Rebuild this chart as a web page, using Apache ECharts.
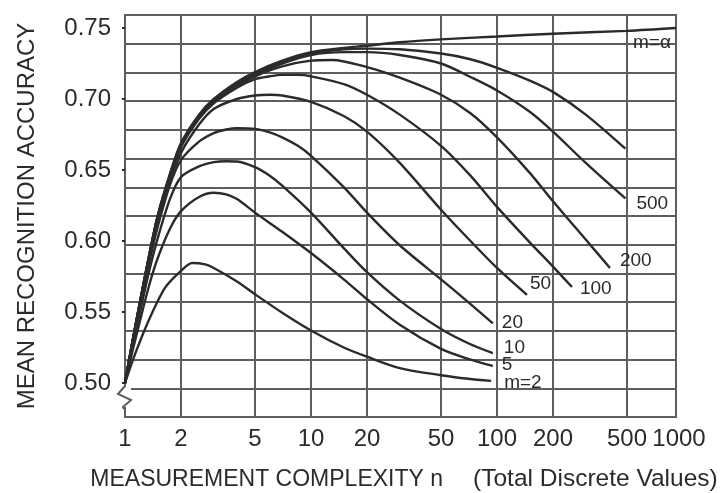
<!DOCTYPE html>
<html>
<head>
<meta charset="utf-8">
<script src="https://cdn.jsdelivr.net/npm/echarts@6/dist/echarts.min.js"></script>
<style>
  html, body { margin: 0; padding: 0; background: #fff; }
  #chart { width: 721px; height: 493px; }
</style>
</head>
<body>
<div id="chart"></div>
<script>
// Measurement complexity n (log scale) and the tick labels along it.
const xTickValues = [1, 2, 5, 10, 20, 50, 100, 200, 500, 917];
const xTickLabels = ['1', '2', '5', '10', '20', '50', '100', '200', '500', '1000'];
const xEdge = 917;                 // right edge of the ruled paper
const yTicks = [0.50, 0.55, 0.60, 0.65, 0.70, 0.75];
const yMin = 0.476056, yMax = 0.759155;

// Mean recognition accuracy vs. n, one curve per sample size m: [n, accuracy]
const mInf = [[1,0.500],[1.1,0.530],[1.2,0.556],[1.35,0.590],[1.5,0.618],[1.75,0.648],[2,0.669],[2.5,0.689],[3,0.700],[4,0.712],[5,0.719],[7,0.727],[10,0.733],[15,0.736],[20,0.7375],[30,0.740],[50,0.742],[100,0.744],[200,0.746],[500,0.748],[917,0.750]];
const m1000 = [[1,0.500],[1.1,0.530],[1.2,0.556],[1.35,0.590],[1.5,0.618],[1.75,0.647],[2,0.668],[2.5,0.688],[3,0.699],[4,0.711],[5,0.718],[7,0.726],[10,0.732],[15,0.735],[20,0.7355],[30,0.735],[50,0.732],[72,0.728],[100,0.722],[150,0.713],[200,0.705],[300,0.689],[490,0.665]];
const m500 = [[1,0.500],[1.1,0.530],[1.2,0.556],[1.35,0.590],[1.5,0.617],[1.75,0.647],[2,0.668],[2.5,0.688],[3,0.699],[4,0.710],[5,0.717],[7,0.725],[10,0.731],[15,0.733],[20,0.733],[30,0.731],[50,0.725],[72,0.7155],[100,0.706],[150,0.691],[200,0.677],[300,0.655],[490,0.630]];
const m200 = [[1,0.500],[1.1,0.530],[1.2,0.556],[1.35,0.590],[1.5,0.617],[1.75,0.646],[2,0.667],[2.5,0.687],[3,0.698],[4,0.709],[5,0.716],[7,0.723],[10,0.727],[13,0.7275],[20,0.7225],[30,0.715],[50,0.703],[72,0.690],[100,0.673],[150,0.648],[200,0.628],[300,0.601],[405,0.581]];
const m100 = [[1,0.500],[1.1,0.530],[1.2,0.556],[1.35,0.589],[1.5,0.616],[1.75,0.645],[2,0.666],[2.5,0.686],[3,0.697],[4,0.708],[5,0.714],[6,0.716],[7,0.717],[8.5,0.717],[10,0.716],[15,0.7105],[20,0.703],[30,0.689],[50,0.667],[72,0.646],[100,0.624],[150,0.599],[200,0.582],[253,0.5676]];
const m50 = [[1,0.500],[1.1,0.530],[1.2,0.555],[1.35,0.588],[1.5,0.615],[1.75,0.642],[2,0.662],[2.5,0.682],[3,0.693],[4,0.700],[5,0.7025],[6,0.703],[7,0.7025],[10,0.698],[15,0.688],[20,0.677],[30,0.655],[50,0.622],[72,0.600],[100,0.581],[145,0.562]];
const m20 = [[1,0.500],[1.1,0.528],[1.2,0.553],[1.35,0.585],[1.5,0.610],[1.75,0.640],[2,0.657],[2.5,0.670],[3,0.676],[3.5,0.6785],[4,0.6795],[5,0.679],[6,0.6765],[7,0.673],[8.5,0.667],[10,0.660],[15,0.638],[20,0.620],[30,0.597],[50,0.573],[70,0.557],[95,0.542]];
const m10 = [[1,0.500],[1.1,0.526],[1.2,0.549],[1.35,0.579],[1.5,0.602],[1.75,0.630],[2,0.645],[2.5,0.6525],[3,0.6555],[3.5,0.6562],[4,0.656],[5,0.652],[6,0.646],[7,0.639],[10,0.620],[15,0.595],[20,0.578],[30,0.558],[50,0.538],[70,0.528],[95,0.521]];
const m5 = [[1,0.500],[1.1,0.523],[1.2,0.543],[1.35,0.569],[1.5,0.588],[1.75,0.609],[2,0.621],[2.5,0.631],[3,0.634],[3.5,0.6328],[4,0.6295],[5,0.620],[7,0.6065],[10,0.5915],[15,0.573],[20,0.559],[30,0.541],[50,0.524],[70,0.517],[95,0.512]];
const m2 = [[1,0.500],[1.13,0.520],[1.33,0.543],[1.64,0.567],[2,0.579],[2.3,0.5845],[2.7,0.5835],[3,0.581],[4,0.5715],[5,0.5625],[7,0.5495],[10,0.537],[15,0.525],[20,0.5185],[30,0.5105],[50,0.5055],[70,0.503],[93,0.5015]];

const curveNames = ['m=α', '1000', '500', '200', '100', '50', '20', '10', '5', 'm=2'];
const curveData = [mInf, m1000, m500, m200, m100, m50, m20, m10, m5, m2];
const curveLabelShown = [true, false, true, true, true, true, true, true, true, true];
// where each curve's name sits relative to the curve's last point
const curveLabelOffset = [[-51, 15], [0, 0], [3, 5], [2, -7], [0, 2], [-5, -11], [1, -1], [3, -5], [1, -1], [5, 2]];

const FONT = '"Liberation Sans", Arial, Helvetica, sans-serif';
const INK = '#2b2b2b';
const RULE = '#5e5e5e';

const chart = echarts.init(document.getElementById('chart'), null, { renderer: 'canvas' });

const series = curveData.map((data, i) => ({
  type: 'line',
  name: curveNames[i],
  xAxisIndex: 0,
  yAxisIndex: 0,
  data: data,
  showSymbol: false,
  smooth: 0.3,
  silent: true,
  z: 5,
  lineStyle: { color: INK, width: 2.4 },
  endLabel: {
    show: curveLabelShown[i],
    formatter: curveNames[i],
    offset: curveLabelOffset[i],
    fontFamily: FONT,
    fontSize: 19,
    color: INK
  }
}));

chart.setOption({
  animation: false,
  backgroundColor: '#ffffff',
  grid: {
    left: 125, right: 45, top: 15, bottom: 76,
    outerBoundsMode: 'none',
    show: true, borderColor: RULE, borderWidth: 2, backgroundColor: 'transparent'
  },
  xAxis: [
    // data scale: logarithmic in n
    { type: 'log', logBase: 10, min: 1, max: xEdge, show: false },
    // ruling and labels at 1-2-5 steps, placed by log10 of each tick value
    {
      type: 'value', position: 'bottom',
      min: 0, max: Math.log10(xEdge),
      axisLine: { show: false },
      axisTick: { show: false, customValues: xTickValues.map(Math.log10) },
      axisLabel: {
        customValues: xTickValues.map(Math.log10),
        formatter: v => {
          let best = 0;
          xTickValues.forEach((t, k) => {
            if (Math.abs(Math.log10(t) - v) < Math.abs(Math.log10(xTickValues[best]) - v)) best = k;
          });
          // the edge label hangs a little past the frame
          return best === xTickValues.length - 1 ? '{edge|' + xTickLabels[best] + '}' : xTickLabels[best];
        },
        rich: { edge: { fontFamily: FONT, fontSize: 24, color: INK, padding: [0, 0, 0, 6] } },
        fontFamily: FONT, fontSize: 24, color: INK, margin: 10
      },
      splitLine: { show: true, lineStyle: { color: RULE, width: 2 } },
      name: '{a|MEASUREMENT COMPLEXITY n}{b|(Total Discrete Values)}',
      nameLocation: 'middle',
      nameGap: 50,
      nameTextStyle: {
        rich: {
          a: { fontFamily: FONT, fontSize: 23, color: INK, padding: [0, 0, 0, 7] },
          b: { fontFamily: FONT, fontSize: 24.5, color: INK, padding: [0, 0, 0, 30] }
        }
      }
    }
  ],
  yAxis: [
    {
      type: 'value', min: yMin, max: yMax,
      axisLine: { show: false },
      axisTick: { show: true, customValues: yTicks, length: 3, lineStyle: { color: INK, width: 2 } },
      axisLabel: {
        customValues: yTicks,
        formatter: v => v.toFixed(2),
        fontFamily: FONT, fontSize: 24, color: INK, margin: 14
      },
      splitLine: { show: false },
      name: 'MEAN RECOGNITION ACCURACY',
      nameLocation: 'middle',
      nameGap: 86,
      nameTextStyle: { fontFamily: FONT, fontSize: 24, color: INK }
    },
    // horizontal ruling of the chart paper
    {
      type: 'value', min: 0, max: 14, interval: 1,
      axisLine: { show: false }, axisTick: { show: false }, axisLabel: { show: false },
      splitLine: { show: true, lineStyle: { color: RULE, width: 2 } }
    }
  ],
  series: series
});

// break mark on the accuracy axis just below 0.50
const bx = chart.convertToPixel({ xAxisIndex: 0 }, 1);
const by = chart.convertToPixel({ yAxisIndex: 0 }, 0.5);
chart.setOption({
  graphic: [
    { type: 'rect', shape: { x: bx - 6, y: by + 4, width: 12, height: 20 }, style: { fill: '#fff' }, z: 10 },
    {
      type: 'polyline', z: 11,
      shape: { points: [[bx, by + 3], [bx - 7, by + 11], [bx + 6, by + 17], [bx - 2, by + 24], [bx - 1, by + 26]] },
      style: { stroke: RULE, lineWidth: 2, fill: null }
    }
  ]
});
</script>
</body>
</html>
